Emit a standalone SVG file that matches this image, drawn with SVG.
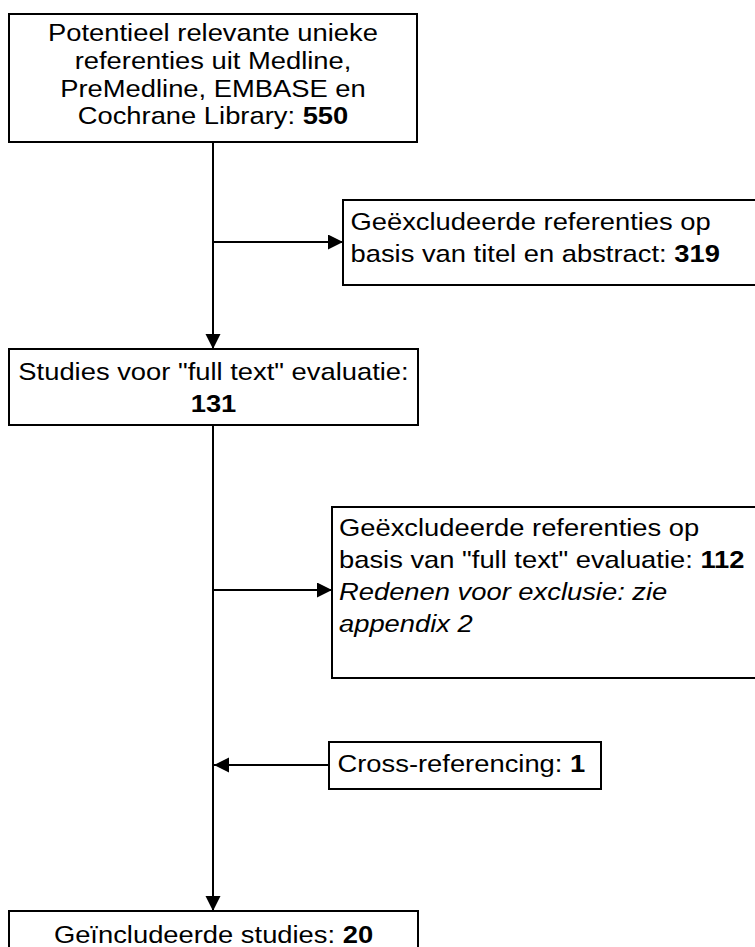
<svg xmlns="http://www.w3.org/2000/svg" width="755" height="947" viewBox="0 0 755 947">
<style>
  .box { fill: #ffffff; stroke: #000000; stroke-width: 2; }
  .conn { fill: none; stroke: #000000; stroke-width: 2; }
  text { font-family: "Liberation Sans", Arial, sans-serif; font-size: 24px; fill: #000000; }
  .c { text-anchor: middle; }
  .b { font-weight: bold; }
  .i { font-style: italic; }
</style>
<defs>
  <marker id="arrow" markerUnits="userSpaceOnUse" markerWidth="16" markerHeight="16" refX="15" refY="7.5" orient="auto">
    <path d="M0,0 L15,7.5 L0,15 Z" fill="#000000"/>
  </marker>
</defs>
<rect width="755" height="947" fill="#ffffff"/>
<g id="connectors">
  <path class="conn" d="M213,142 L213,349" marker-end="url(#arrow)"/>
  <path class="conn" d="M213,242 L343,242" marker-end="url(#arrow)"/>
  <path class="conn" d="M213,425 L213,911" marker-end="url(#arrow)"/>
  <path class="conn" d="M213,590 L332,590" marker-end="url(#arrow)"/>
  <path class="conn" d="M329,765 L214,765" marker-end="url(#arrow)"/>
</g>
<g id="node-potential">
  <rect class="box" x="9" y="14" width="408" height="128"/>
  <text class="c" transform="matrix(1.14 0 0 1 213 41)">Potentieel relevante unieke</text>
  <text class="c" transform="matrix(1.14 0 0 1 213 68.5)">referenties uit Medline,</text>
  <text class="c" transform="matrix(1.14 0 0 1 213 96.5)">PreMedline, EMBASE en</text>
  <text class="c" transform="matrix(1.14 0 0 1 213 124)">Cochrane Library: <tspan class="b">550</tspan></text>
</g>
<g id="node-excluded-title">
  <rect class="box" x="343" y="200" width="430" height="85"/>
  <text transform="matrix(1.14 0 0 1 350.5 229.5)">Geëxcludeerde referenties op</text>
  <text transform="matrix(1.14 0 0 1 350.5 261.5)">basis van titel en abstract: <tspan class="b">319</tspan></text>
</g>
<g id="node-fulltext">
  <rect class="box" x="9" y="349" width="409" height="76"/>
  <text class="c" transform="matrix(1.14 0 0 1 213.5 380)">Studies voor "full text" evaluatie:</text>
  <text class="c b" transform="matrix(1.14 0 0 1 213.5 412)">131</text>
</g>
<g id="node-excluded-fulltext">
  <rect class="box" x="332" y="507" width="440" height="171"/>
  <text transform="matrix(1.14 0 0 1 339 536)">Geëxcludeerde referenties op</text>
  <text transform="matrix(1.14 0 0 1 339 568)">basis van "full text" evaluatie: <tspan class="b">112</tspan></text>
  <text class="i" transform="matrix(1.14 0 0 1 339 600)">Redenen voor exclusie: zie</text>
  <text class="i" transform="matrix(1.14 0 0 1 339 632)">appendix 2</text>
</g>
<g id="node-crossref">
  <rect class="box" x="329" y="742" width="272" height="47"/>
  <text transform="matrix(1.14 0 0 1 337.5 772)">Cross-referencing: <tspan class="b">1</tspan></text>
</g>
<g id="node-included">
  <rect class="box" x="9" y="911" width="409" height="60"/>
  <text class="c" transform="matrix(1.14 0 0 1 213.5 943)">Geïncludeerde studies: <tspan class="b">20</tspan></text>
</g>
</svg>
